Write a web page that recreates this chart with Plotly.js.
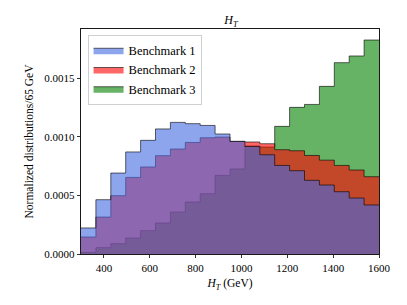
<!DOCTYPE html>
<html>
<head>
<meta charset="utf-8">
<script src="https://cdn.plot.ly/plotly-3.0.1.min.js"></script>
<style>html,body{margin:0;padding:0;background:#fff;}#chart{width:407px;height:305px;}</style>
</head>
<body>
<div id="chart"></div>
<script>
const binEdges = [300,365,430,495,560,625,690,755,820,885,950,1015,1080,1145,1210,1275,1340,1405,1470,1535,1600];
const benchmark1 = [0.000222,0.000463,0.00069,0.00087,0.000969,0.001066,0.001122,0.001111,0.001096,0.001023,0.00096,0.000917,0.000846,0.000755,0.00071,0.000628,0.000588,0.000531,0.000477,0.000418];
const benchmark2 = [0.000145,0.000315,0.000497,0.000653,0.000742,0.000838,0.000895,0.000951,0.000991,0.000997,0.00096,0.000955,0.00094,0.000889,0.00088,0.00084,0.0008,0.000755,0.000716,0.000659];
const benchmark3 = [0.000014,0.000054,0.000088,0.000136,0.000199,0.000264,0.000358,0.000443,0.000514,0.00067,0.000725,0.00092,0.000912,0.001088,0.00125,0.001275,0.001429,0.001631,0.001688,0.001824];
const seriesNames = ['Benchmark 1','Benchmark 2','Benchmark 3'];
const xTicks = [400,600,800,1000,1200,1400,1600];
const yTicks = [0,0.0005,0.001,0.0015];

const FONT = "Liberation Serif";

function stepTrace(vals, name, fillc, rank){
  return {
    type:'scatter', mode:'lines', name:name,
    x: binEdges, y: vals.concat([vals[vals.length-1]]),
    line:{shape:'hv', color:'rgba(0,0,0,0.6)', width:1},
    fill:'tozeroy', fillcolor:fillc,
    legendrank: rank, hoverinfo:'skip'
  };
}

const traces = [
  stepTrace(benchmark3, seriesNames[2], 'rgba(0,128,0,0.6)', 3),
  stepTrace(benchmark2, seriesNames[1], 'rgba(255,0,0,0.6)', 2),
  stepTrace(benchmark1, seriesNames[0], 'rgba(65,105,225,0.6)', 1)
];

const layout = {
  width:407, height:305,
  margin:{l:80.5, r:28, t:29.3, b:50.5},
  paper_bgcolor:'#fff', plot_bgcolor:'#fff',
  font:{family:FONT, size:11, color:'#000'},
  showlegend:true,
  title:{text:'<i>H<sub>T</sub></i>', x:0.5675, xanchor:'center', xref:'container', y:0.935, yanchor:'middle', yref:'container', font:{family:FONT, size:12, color:'#000'}},
  legend:{x:0.022, y:0.975, xanchor:'left', yanchor:'top', bgcolor:'rgba(255,255,255,0.8)', bordercolor:'#d0d0d0', borderwidth:1,
          font:{family:FONT, size:12.5}, itemwidth:30, traceorder:'normal'},
  xaxis:{range:[300,1600], tickvals:xTicks, ticktext:xTicks.map(String), ticks:'outside', ticklen:3.5, tickwidth:0.8, tickcolor:'#000',
         showline:true, mirror:true, linecolor:'#000', linewidth:0.9, showgrid:false, zeroline:false,
         tickfont:{family:FONT, size:11},
         title:{text:'<i>H<sub>T</sub></i> (GeV)', font:{family:FONT, size:11.5}, standoff:6}},
  yaxis:{range:[0,0.001918], tickvals:yTicks, tickformat:'.4f', ticks:'outside', ticklen:3.5, tickwidth:0.8, tickcolor:'#000',
         showline:true, mirror:true, linecolor:'#000', linewidth:0.9, showgrid:false, zeroline:false,
         tickfont:{family:FONT, size:11},
         title:{text:'Normalized distributions/65 GeV', font:{family:FONT, size:11.5}, standoff:8}}
};

Plotly.newPlot('chart', traces, layout, {staticPlot:true, displayModeBar:false});
</script>
</body>
</html>
